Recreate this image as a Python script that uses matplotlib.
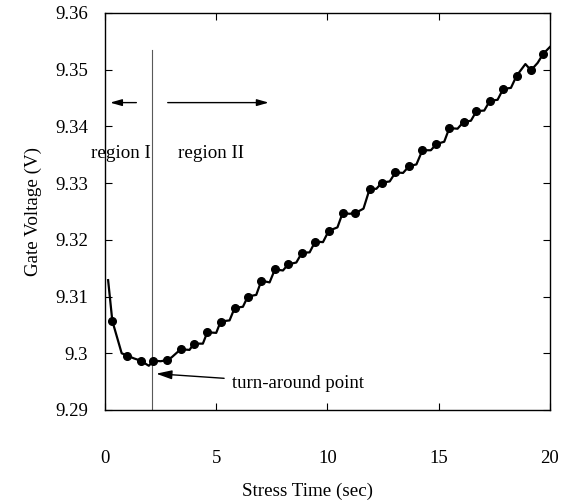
import matplotlib
matplotlib.use("Agg")
import matplotlib.pyplot as plt

plt.rcParams['font.family'] = ['Liberation Serif', 'DejaVu Serif']

# measured curve (line has small wiggles between the marked points)
line_t = [0.14, 0.33, 0.75, 1.0, 1.3, 1.6, 1.97, 2.18, 2.5, 2.8, 3.0, 3.4, 3.8, 4.0,
          4.4, 4.6, 5.0, 5.2, 5.6, 5.83, 6.2, 6.42, 6.8, 7.03, 7.4, 7.64, 8.0, 8.24,
          8.6, 8.85, 9.2, 9.45, 9.8, 10.06, 10.45, 10.68, 11.0, 11.24, 11.62, 11.9,
          12.2, 12.45, 12.8, 13.06, 13.4, 13.67, 14.0, 14.27, 14.65, 14.9, 15.25,
          15.48, 15.85, 16.12, 16.45, 16.7, 17.05, 17.3, 17.65, 17.9, 18.25, 18.5,
          18.9, 19.15, 19.45, 19.7, 20.0]
line_v = [9.3129, 9.3057, 9.3000, 9.2996, 9.2991, 9.2987, 9.2978, 9.2987, 9.2986,
          9.2988, 9.2993, 9.3007, 9.3006, 9.3017, 9.3017, 9.3037, 9.3036, 9.3056,
          9.3058, 9.3080, 9.3082, 9.3100, 9.3103, 9.3128, 9.3125, 9.3148, 9.3146,
          9.3157, 9.3160, 9.3177, 9.3178, 9.3197, 9.3196, 9.3216, 9.3222, 9.3247,
          9.3246, 9.3247, 9.3255, 9.3290, 9.3290, 9.3301, 9.3303, 9.3319, 9.3318,
          9.3330, 9.3333, 9.3358, 9.3358, 9.3369, 9.3373, 9.3397, 9.3396, 9.3408,
          9.3410, 9.3427, 9.3428, 9.3445, 9.3447, 9.3466, 9.3468, 9.3489, 9.3510,
          9.3499, 9.3512, 9.3528, 9.3540]

dot_t = [0.33, 1.0, 1.6, 2.18, 2.8, 3.4, 4.0, 4.6, 5.2, 5.83, 6.42, 7.03, 7.64, 8.24,
         8.85, 9.45, 10.06, 10.68, 11.24, 11.9, 12.45, 13.06, 13.67, 14.27, 14.9,
         15.48, 16.12, 16.7, 17.3, 17.9, 18.5, 19.15, 19.7]
dot_v = [9.3057, 9.2996, 9.2987, 9.2987, 9.2988, 9.3007, 9.3017, 9.3037, 9.3056,
         9.3080, 9.3100, 9.3128, 9.3148, 9.3157, 9.3177, 9.3197, 9.3216, 9.3247,
         9.3247, 9.3290, 9.3301, 9.3319, 9.3330, 9.3358, 9.3369, 9.3397, 9.3408,
         9.3427, 9.3445, 9.3466, 9.3489, 9.3499, 9.3528]

x_ticks = [0, 5, 10, 15, 20]
y_ticks = [9.29, 9.30, 9.31, 9.32, 9.33, 9.34, 9.35, 9.36]
y_labels = ['9.29', '9.3', '9.31', '9.32', '9.33', '9.34', '9.35', '9.36']

turn_t = 2.1

fig = plt.figure(figsize=(5.66, 5.0), dpi=100)
ax = fig.add_axes([0.1855, 0.18, 0.786, 0.794])

ax.plot(line_t, line_v, color='black', lw=1.6, zorder=3)
ax.plot(dot_t, dot_v, 'o', color='black', ms=5.5, zorder=4)

# region boundary
ax.plot([turn_t, turn_t], [9.29, 9.3535], color='0.35', lw=0.8, zorder=2)

arrow_style = '-|>,head_length=0.7,head_width=0.2'
ax.annotate('', xy=(0.23, 9.3442), xytext=(1.41, 9.3442),
            arrowprops=dict(arrowstyle=arrow_style, color='black', lw=1.0,
                            shrinkA=0, shrinkB=0))
ax.annotate('', xy=(7.36, 9.3442), xytext=(2.82, 9.3442),
            arrowprops=dict(arrowstyle=arrow_style, color='black', lw=1.0,
                            shrinkA=0, shrinkB=0))
ax.text(-0.65, 9.3352, 'region I', fontsize=13.7, va='center', ha='left')
ax.text(3.27, 9.3352, 'region II', fontsize=13.7, va='center', ha='left')

ax.annotate('turn-around point', xy=(2.3, 9.2964), xytext=(5.73, 9.2947),
            fontsize=13.5, va='center', ha='left',
            arrowprops=dict(arrowstyle=arrow_style, color='black', lw=1.0,
                            shrinkA=4, shrinkB=0))

ax.set_xlim(0, 20)
ax.set_ylim(9.29, 9.36)
ax.set_xticks(x_ticks)
ax.set_xticklabels([str(t) for t in x_ticks])
ax.set_yticks(y_ticks)
ax.set_yticklabels(y_labels)
ax.tick_params(axis='both', direction='in', length=5, width=0.8, labelsize=13.5,
               top=True, right=True)
ax.tick_params(axis='x', pad=29)
ax.tick_params(axis='y', pad=12)
for s in ax.spines.values():
    s.set_linewidth(1.0)

ax.set_xlabel('Stress Time (sec)', fontsize=13.7, labelpad=11, x=0.456)
ax.set_ylabel('Gate Voltage (V)', fontsize=13.7, labelpad=10)

fig.savefig('out.png', dpi=100)
